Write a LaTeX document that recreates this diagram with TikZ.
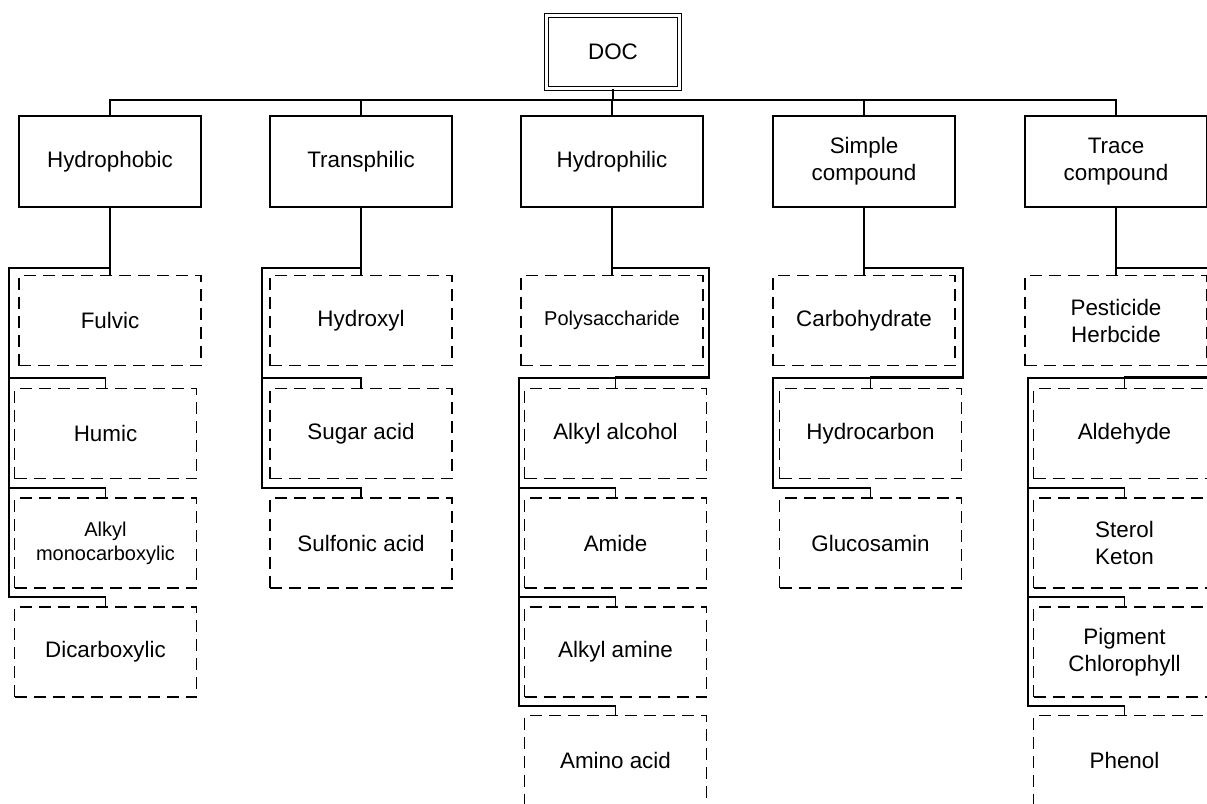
\documentclass[tikz,border=0pt]{standalone}
\usepackage{fontspec}
\setmainfont{Liberation Sans}

\begin{document}
\begin{tikzpicture}[x=0.5pt,y=-0.5pt,
  topbox/.style={draw, double, line width=0.5pt, double distance=1.5pt,
    minimum width=66.5pt, minimum height=36.5pt, inner sep=0pt,
    font=\fontsize{11.2}{13.5}\selectfont},
  headbox/.style={draw, line width=0.85pt, minimum width=91pt,
    minimum height=45.5pt, inner sep=0pt, align=center,
    font=\fontsize{11.2}{13.5}\selectfont},
  leafbox/.style={draw, line width=0.8pt, dash pattern=on 6pt off 3.5pt,
    minimum width=91pt, minimum height=45pt, inner sep=0pt, align=center,
    font=\fontsize{11.2}{13.5}\selectfont},
  leafsmall/.style={leafbox, font=\fontsize{10}{12}\selectfont},
  link/.style={line width=0.8pt}]
  \useasboundingbox (0,0) rectangle (1207,804);
  \clip (0,0) rectangle (1207,804);

  % root and class headers
  \node[topbox] (doc) at (613,52) {DOC};
  \node[headbox] (hphob)  at (110,161.5)  {Hydrophobic};
  \node[headbox] (htrans) at (361,161.5)  {Transphilic};
  \node[headbox] (hphil)  at (612,161.5)  {Hydrophilic};
  \node[headbox] (hsimp)  at (864,161.5)  {Simple\\compound};
  \node[headbox] (htrace) at (1116,161.5) {Trace\\compound};
  \foreach \h in {hphob,htrans,hphil,hsimp,htrace}
    \draw[link] (doc.south) -- ++(0,11) -| (\h.north);

  % hydrophobic
  \node[leafbox]   (fulvic)    at (110,320.5)   {Fulvic};
  \node[leafbox]   (humic)     at (105.5,433.5) {Humic};
  \node[leafsmall] (alkylmono) at (105.5,543)   {Alkyl\\monocarboxylic};
  \node[leafbox]   (dicarb)    at (105.5,652)   {Dicarboxylic};
  \coordinate (t1) at (9,268);
  \draw[link] (hphob.south) -- (fulvic.north);
  \foreach \c in {humic,alkylmono,dicarb}
    \draw[link] (hphob.south) |- (t1) |- ([yshift=4.75pt]\c.north) -- (\c.north);

  % transphilic
  \node[leafbox] (hydroxyl)  at (361,320.5) {Hydroxyl};
  \node[leafbox] (sugaracid) at (361,433.5) {Sugar acid};
  \node[leafbox] (sulfonic)  at (361,543)   {Sulfonic acid};
  \coordinate (t2) at (262,268);
  \draw[link] (htrans.south) -- (hydroxyl.north);
  \foreach \c in {sugaracid,sulfonic}
    \draw[link] (htrans.south) |- (t2) |- ([yshift=4.75pt]\c.north) -- (\c.north);

  % hydrophilic
  \node[leafsmall] (polysac)    at (612,320.5)   {Polysaccharide};
  \node[leafbox]   (alkylalc)   at (615.5,433.5) {Alkyl alcohol};
  \node[leafbox]   (amide)      at (615.5,543)   {Amide};
  \node[leafbox]   (alkylamine) at (615.5,652)   {Alkyl amine};
  \node[leafbox]   (aminoacid)  at (615.5,760.5) {Amino acid};
  \coordinate (r3) at (709,268);
  \coordinate (t3) at (519,378);
  \draw[link] (hphil.south) -- (polysac.north);
  \draw[link] (hphil.south) |- (r3) |- ([yshift=5.5pt]alkylalc.north) -- (alkylalc.north);
  \foreach \c in {amide,alkylamine,aminoacid}
    \draw[link] (hphil.south) |- (r3) |- (t3) |- ([yshift=4.5pt]\c.north) -- (\c.north);

  % simple compound
  \node[leafbox] (carbo)      at (864,320.5)   {Carbohydrate};
  \node[leafbox] (hydrocarb)  at (870.5,433.5) {Hydrocarbon};
  \node[leafbox] (glucosamin) at (870.5,543)   {Glucosamin};
  \coordinate (r4) at (963,268);
  \coordinate (t4) at (773,378);
  \draw[link] (hsimp.south) -- (carbo.north);
  \draw[link] (hsimp.south) |- (r4) |- ([yshift=5.5pt]hydrocarb.north) -- (hydrocarb.north);
  \draw[link] (hsimp.south) |- (r4) |- (t4) |- ([yshift=4.5pt]glucosamin.north) -- (glucosamin.north);

  % trace compound
  \node[leafbox] (pesticide) at (1116,320.5)   {Pesticide\\Herbcide};
  \node[leafbox] (aldehyde)  at (1124.5,433.5) {Aldehyde};
  \node[leafbox] (sterol)    at (1124.5,543)   {Sterol\\Keton};
  \node[leafbox] (pigment)   at (1124.5,652)   {Pigment\\Chlorophyll};
  \node[leafbox] (phenol)    at (1124.5,760.5) {Phenol};
  \coordinate (r5) at (1219,268);
  \coordinate (t5) at (1028,378);
  \draw[link] (htrace.south) -- (pesticide.north);
  \draw[link] (htrace.south) |- (r5) |- ([yshift=5.5pt]aldehyde.north) -- (aldehyde.north);
  \foreach \c in {sterol,pigment,phenol}
    \draw[link] (htrace.south) |- (r5) |- (t5) |- ([yshift=4.5pt]\c.north) -- (\c.north);
\end{tikzpicture}
\end{document}
